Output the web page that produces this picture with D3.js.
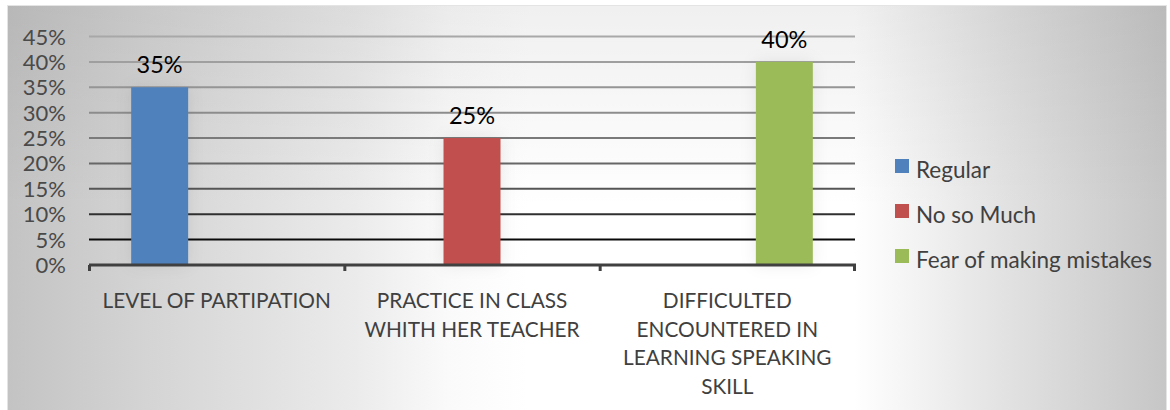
<!DOCTYPE html>
<html>
<head>
<meta charset="utf-8">
<script src="https://cdn.jsdelivr.net/npm/d3@7"></script>
<style>
  body { margin: 0; background: #fff; }
  text { font-family: Lato, "Open Sans", sans-serif; }
</style>
</head>
<body>
<svg width="1170" height="410"></svg>
<script>
// data
var categories = [
  ["LEVEL OF PARTIPATION"],
  ["PRACTICE IN CLASS", "WHITH HER TEACHER"],
  ["DIFFICULTED", "ENCOUNTERED IN", "LEARNING SPEAKING", "SKILL"]
];
var seriesNames = ["Regular", "No so Much", "Fear of making mistakes"];
var seriesColors = ["#4f81bd", "#c0504d", "#9bbb59"];
// one value per category for each series (others are 0 in the source chart)
var regular = [0.35, 0, 0];
var noSoMuch = [0, 0.25, 0];
var fearOfMistakes = [0, 0, 0.40];
var yTicks = [0, 0.05, 0.10, 0.15, 0.20, 0.25, 0.30, 0.35, 0.40, 0.45];

var series = [regular, noSoMuch, fearOfMistakes];

var svg = d3.select("svg"),
    width = +svg.attr("width"),
    height = +svg.attr("height");

var defs = svg.append("defs");
var bg = defs.append("linearGradient")
    .attr("id", "bg")
    .attr("gradientUnits", "userSpaceOnUse")
    .attr("x1", 7).attr("x2", 1167).attr("y1", 0).attr("y2", 0);
[[0, "#c3c3c3"], [0.12, "#d4d4d4"], [0.3, "#ebebeb"], [0.38, "#fafafa"],
 [0.45, "#ffffff"], [0.73, "#ffffff"], [0.86, "#e2e2e2"], [1, "#c6c6c6"]]
  .forEach(function(s) { bg.append("stop").attr("offset", s[0]).attr("stop-color", s[1]); });

var shade = defs.append("linearGradient")
    .attr("id", "shade").attr("x1", 0).attr("x2", 0).attr("y1", 0).attr("y2", 1);
shade.append("stop").attr("offset", 0).attr("stop-color", "#000").attr("stop-opacity", 0.06);
shade.append("stop").attr("offset", 0.5).attr("stop-color", "#000").attr("stop-opacity", 0);

var glow = defs.append("filter").attr("id", "glow")
    .attr("x", "-60%").attr("y", "-20%").attr("width", "220%").attr("height", "140%");
glow.append("feDropShadow").attr("dx", 0).attr("dy", 0).attr("stdDeviation", 8)
    .attr("flood-color", "#000").attr("flood-opacity", 0.08);

// background
svg.append("rect").attr("x", 7).attr("y", 5).attr("width", 1160).attr("height", 405)
    .attr("fill", "url(#bg)");
svg.append("rect").attr("x", 7).attr("y", 5).attr("width", 1160).attr("height", 405)
    .attr("fill", "url(#shade)");
svg.append("rect").attr("x", 7.5).attr("y", 5.5).attr("width", 1159).attr("height", 410)
    .attr("fill", "none").attr("stroke", "#e4e4e4").attr("stroke-width", 1);

var margin = {left: 89, right: 855, top: 36.5, bottom: 265};

var x0 = d3.scaleBand()
    .domain(d3.range(categories.length))
    .range([margin.left, margin.right])
    .paddingInner(0).paddingOuter(0);

var x1 = d3.scaleBand()
    .domain(d3.range(series.length))
    .range([0, x0.bandwidth()])
    .paddingOuter(0.74).paddingInner(0);

var y = d3.scaleLinear().domain([0, 0.45]).range([margin.bottom, margin.top]);

var gridColor = d3.scaleLinear().domain([0.05, 0.15, 0.30, 0.45])
    .range(["#0a0a0a", "#555555", "#8c8c8c", "#a8a8a8"]);

// gridlines
svg.append("g").selectAll("line")
    .data(yTicks.filter(function(d) { return d > 0; }))
    .enter().append("line")
    .attr("x1", margin.left).attr("x2", margin.right)
    .attr("y1", function(d) { return y(d); })
    .attr("y2", function(d) { return y(d); })
    .attr("stroke", function(d) { return gridColor(d); })
    .attr("stroke-width", 2);

// y axis labels
svg.append("g").selectAll("text")
    .data(yTicks)
    .enter().append("text")
    .attr("x", 66)
    .attr("y", function(d) { return y(d) + 8; })
    .attr("text-anchor", "end")
    .attr("fill", "#4a4a4a")
    .style("font-size", "22px")
    .text(d3.format(".0%"));

// bars
var groups = svg.append("g").selectAll("g")
    .data(categories)
    .enter().append("g")
    .attr("transform", function(d, i) { return "translate(" + x0(i) + ",0)"; });

groups.selectAll("rect")
    .data(function(d, i) {
      return series.map(function(s, k) { return {k: k, v: s[i]}; })
                   .filter(function(e) { return e.v > 0; });
    })
    .enter().append("rect")
    .attr("x", function(d) { return x1(d.k); })
    .attr("width", x1.bandwidth())
    .attr("y", function(d) { return y(d.v); })
    .attr("height", function(d) { return y(0) - y(d.v); })
    .attr("fill", function(d) { return seriesColors[d.k]; })
    .attr("filter", "url(#glow)");

groups.selectAll("text.val")
    .data(function(d, i) {
      return series.map(function(s, k) { return {k: k, v: s[i]}; })
                   .filter(function(e) { return e.v > 0; });
    })
    .enter().append("text")
    .attr("class", "val")
    .attr("x", function(d) { return x1(d.k) + x1.bandwidth() / 2; })
    .attr("y", function(d) { return y(d.v) - 14; })
    .attr("text-anchor", "middle")
    .attr("fill", "#000")
    .style("font-size", "23.5px")
    .text(function(d) { return d3.format(".0%")(d.v); });

// x axis
svg.append("line")
    .attr("x1", margin.left).attr("x2", margin.right + 1)
    .attr("y1", y(0)).attr("y2", y(0))
    .attr("stroke", "#404040").attr("stroke-width", 3);
svg.append("g").selectAll("line")
    .data(d3.range(categories.length + 1))
    .enter().append("line")
    .attr("x1", function(i) { return i < categories.length ? x0(i) + 0.5 : margin.right - 0.5; })
    .attr("x2", function(i) { return i < categories.length ? x0(i) + 0.5 : margin.right - 0.5; })
    .attr("y1", y(0)).attr("y2", y(0) + 6)
    .attr("stroke", "#404040").attr("stroke-width", 3);

// category labels
groups.append("text")
    .attr("text-anchor", "middle")
    .attr("fill", "#404040")
    .style("font-size", "20.8px")
    .selectAll("tspan")
    .data(function(d) { return d; })
    .enter().append("tspan")
    .attr("x", x0.bandwidth() / 2)
    .attr("y", function(d, i) { return 308 + i * 28.7; })
    .text(function(d) { return d; });

// legend
var legend = svg.append("g").selectAll("g")
    .data(seriesNames)
    .enter().append("g")
    .attr("transform", function(d, i) { return "translate(895," + (159 + i * 45) + ")"; });
legend.append("rect")
    .attr("width", 14).attr("height", 14)
    .attr("fill", function(d, i) { return seriesColors[i]; });
legend.append("text")
    .attr("x", 21).attr("y", 19)
    .attr("fill", "#404040")
    .style("font-size", "22.5px")
    .text(function(d) { return d; });
</script>
</body>
</html>
